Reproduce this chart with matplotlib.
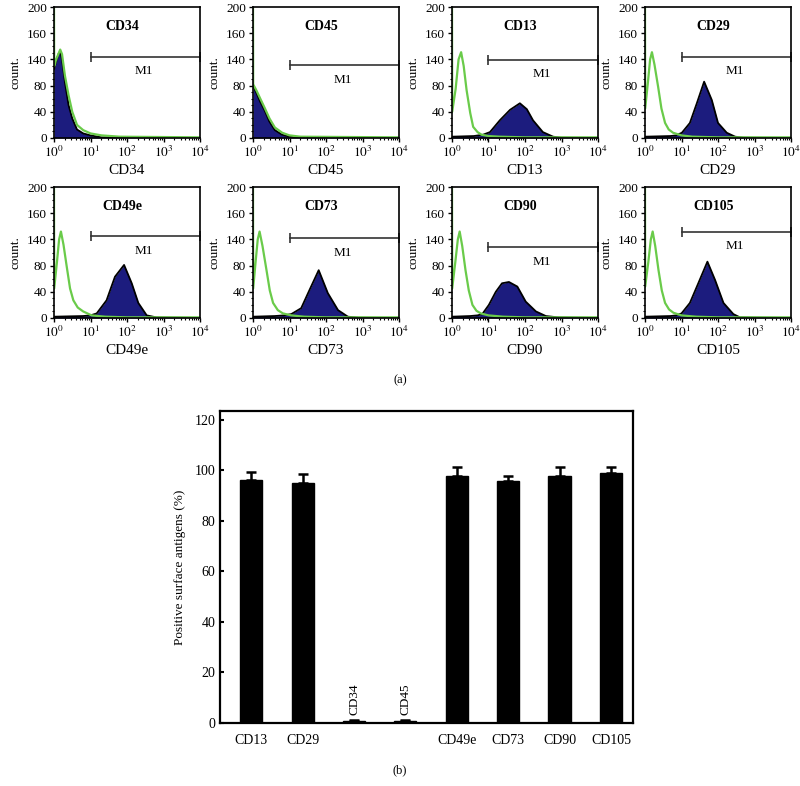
import numpy as np
import matplotlib
matplotlib.use('Agg')
import matplotlib.pyplot as plt
from matplotlib.ticker import FixedLocator

plt.rcParams['font.family'] = ['Liberation Serif', 'DejaVu Serif']
plt.rcParams['mathtext.fontset'] = 'stix'

# --- Panel (a): flow cytometry histograms (x in log10 decades, y in counts) ---
MARKERS = ['CD34', 'CD45', 'CD13', 'CD29', 'CD49e', 'CD73', 'CD90', 'CD105']
M1_Y = [124, 111, 119, 124, 125, 122, 108, 132]

GREEN_X_CD34 = [0, 0.005, 0.06, 0.17, 0.22, 0.3, 0.4, 0.5, 0.63, 0.8, 1.0, 1.3, 1.8, 4.0]
GREEN_Y_CD34 = [200, 110, 120, 135, 128, 95, 65, 40, 20, 12, 7, 4, 2, 1]
BLUE_X_CD34 = [0, 0.05, 0.12, 0.17, 0.22, 0.3, 0.4, 0.5, 0.63, 0.8, 1.0, 1.3, 4.0]
BLUE_Y_CD34 = [105, 115, 128, 132, 120, 85, 50, 30, 13, 7, 4, 1, 0]

GREEN_X_CD45 = [0, 0.005, 0.1, 0.2, 0.32, 0.45, 0.6, 0.8, 1.0, 1.3, 4.0]
GREEN_Y_CD45 = [200, 82, 72, 60, 46, 30, 16, 8, 4, 2, 1]
BLUE_X_CD45 = [0, 0.1, 0.2, 0.32, 0.45, 0.6, 0.8, 1.0, 1.3, 4.0]
BLUE_Y_CD45 = [80, 68, 55, 42, 25, 12, 5, 2, 1, 0]

GREEN_X_CD13 = [0, 0.005, 0.1, 0.18, 0.25, 0.32, 0.4, 0.5, 0.58, 0.7, 0.81, 1.0, 1.3, 2.0, 4.0]
GREEN_Y_CD13 = [200, 40, 75, 120, 131, 110, 73, 38, 17, 9, 5, 3, 2, 1, 1]
BLUE_X_CD13 = [0, 0.6, 0.85, 1.04, 1.31, 1.59, 1.86, 2.05, 2.22, 2.49, 2.77, 3.0, 4.0]
BLUE_Y_CD13 = [2, 3, 5, 9, 27, 43, 53, 44, 27, 9, 2, 0.5, 0]

GREEN_X_CD29 = [0, 0.005, 0.08, 0.14, 0.19, 0.26, 0.36, 0.45, 0.55, 0.65, 0.77, 1.0, 1.3, 2.0, 4.0]
GREEN_Y_CD29 = [200, 45, 85, 120, 131, 112, 78, 45, 23, 13, 8, 4, 2, 1, 1]
BLUE_X_CD29 = [0, 0.7, 0.85, 1.01, 1.23, 1.42, 1.62, 1.83, 2.0, 2.24, 2.47, 2.7, 4.0]
BLUE_Y_CD29 = [2, 3, 4, 8, 23, 53, 86, 58, 23, 8, 2, 0.5, 0]

GREEN_X_CD49E = [0, 0.005, 0.08, 0.14, 0.19, 0.26, 0.35, 0.44, 0.53, 0.65, 0.8, 1.03, 1.4, 2.0, 4.0]
GREEN_Y_CD49E = [200, 45, 85, 120, 132, 112, 78, 45, 27, 16, 10, 4, 2, 1, 1]
BLUE_X_CD49E = [0, 0.8, 1.0, 1.17, 1.44, 1.67, 1.92, 2.13, 2.31, 2.54, 2.8, 4.0]
BLUE_Y_CD49E = [2, 3, 4, 7, 27, 63, 81, 53, 23, 4, 1, 0]

GREEN_X_CD73 = [0, 0.005, 0.07, 0.13, 0.18, 0.26, 0.37, 0.46, 0.55, 0.68, 0.82, 1.05, 1.4, 2.0, 4.0]
GREEN_Y_CD73 = [200, 45, 85, 120, 132, 110, 73, 42, 23, 12, 7, 4, 2, 1, 1]
BLUE_X_CD73 = [0, 0.6, 0.85, 1.05, 1.32, 1.55, 1.8, 2.05, 2.33, 2.6, 2.9, 4.0]
BLUE_Y_CD73 = [2, 3, 4, 6, 15, 43, 73, 38, 12, 2, 0.5, 0]

GREEN_X_CD90 = [0, 0.005, 0.09, 0.16, 0.21, 0.28, 0.37, 0.46, 0.56, 0.67, 0.79, 1.0, 1.4, 2.0, 4.0]
GREEN_Y_CD90 = [200, 45, 85, 120, 132, 110, 73, 42, 20, 11, 7, 4, 2, 1, 1]
BLUE_X_CD90 = [0, 0.5, 0.7, 0.83, 1.01, 1.2, 1.37, 1.56, 1.79, 2.02, 2.3, 2.57, 2.9, 4.0]
BLUE_Y_CD90 = [2, 3, 4, 6, 20, 40, 53, 55, 48, 25, 10, 3, 1, 0]

GREEN_X_CD105 = [0, 0.005, 0.09, 0.16, 0.21, 0.28, 0.37, 0.46, 0.55, 0.66, 0.78, 1.0, 1.4, 2.0, 4.0]
GREEN_Y_CD105 = [200, 48, 85, 120, 132, 110, 73, 42, 23, 13, 8, 4, 2, 1, 1]
BLUE_X_CD105 = [0, 0.7, 0.85, 1.0, 1.23, 1.46, 1.71, 1.92, 2.15, 2.42, 2.6, 4.0]
BLUE_Y_CD105 = [2, 3, 4, 7, 23, 53, 86, 58, 23, 6, 1, 0]

GREEN_X = [GREEN_X_CD34, GREEN_X_CD45, GREEN_X_CD13, GREEN_X_CD29,
           GREEN_X_CD49E, GREEN_X_CD73, GREEN_X_CD90, GREEN_X_CD105]
GREEN_Y = [GREEN_Y_CD34, GREEN_Y_CD45, GREEN_Y_CD13, GREEN_Y_CD29,
           GREEN_Y_CD49E, GREEN_Y_CD73, GREEN_Y_CD90, GREEN_Y_CD105]
BLUE_X = [BLUE_X_CD34, BLUE_X_CD45, BLUE_X_CD13, BLUE_X_CD29,
          BLUE_X_CD49E, BLUE_X_CD73, BLUE_X_CD90, BLUE_X_CD105]
BLUE_Y = [BLUE_Y_CD34, BLUE_Y_CD45, BLUE_Y_CD13, BLUE_Y_CD29,
          BLUE_Y_CD49E, BLUE_Y_CD73, BLUE_Y_CD90, BLUE_Y_CD105]

HIST_YTICKS = [0, 40, 80, 120, 160, 200]
HIST_YTICKLABELS = ['0', '40', '80', '140', '160', '200']
HIST_XTICKLABELS = [r'$10^{0}$', r'$10^{1}$', r'$10^{2}$', r'$10^{3}$', r'$10^{4}$']

# --- Panel (b): percentage of positive cells ---
BAR_LABELS = ['CD13', 'CD29', 'CD34', 'CD45', 'CD49e', 'CD73', 'CD90', 'CD105']
BAR_VALUES = [96.0, 94.9, 0.8, 0.8, 97.9, 95.8, 97.9, 99.1]
BAR_ERRORS = [3.5, 3.7, 0.3, 0.3, 3.6, 2.0, 3.6, 2.4]

GREEN = '#6acb4a'
NAVY = '#1c1c7e'

fig = plt.figure(figsize=(8, 7.86), dpi=100)

W, H = 800.0, 786.0
lefts = [54, 253, 452, 645]
tops = [7, 187]
pw, ph = 146, 131

minor_x = [k + np.log10(m) for k in range(4) for m in range(2, 10)]

for i, name in enumerate(MARKERS):
    row, col = divmod(i, 4)
    ax = fig.add_axes([lefts[col] / W, 1 - (tops[row] + ph) / H, pw / W, ph / H])
    ax.fill_between(BLUE_X[i], BLUE_Y[i], 0, color=NAVY, lw=0)
    ax.plot(BLUE_X[i], BLUE_Y[i], color='black', lw=1.3)
    ax.plot(GREEN_X[i], GREEN_Y[i], color=GREEN, lw=1.6)

    # M1 marker gate
    y = M1_Y[i]
    ax.plot([1, 4], [y, y], color='#333333', lw=1.2, clip_on=False)
    ax.plot([1, 4], [y, y], ls='none', marker='|', ms=7, mew=1.2,
            color='#333333', clip_on=False)
    ax.text(2.45, y - 22, 'M1', ha='center', va='center', fontsize=9.5)
    ax.text(0.47, 0.85, name, transform=ax.transAxes, ha='center',
            va='center', fontsize=10, fontweight='bold')

    ax.set_xlim(0, 4)
    ax.set_ylim(0, 200)
    ax.set_xticks(range(5))
    ax.set_xticklabels(HIST_XTICKLABELS)
    ax.xaxis.set_minor_locator(FixedLocator(minor_x))
    ax.set_yticks(HIST_YTICKS)
    ax.set_yticklabels(HIST_YTICKLABELS)
    ax.yaxis.set_minor_locator(FixedLocator(range(0, 201, 10)))
    ax.tick_params(which='major', direction='out', length=3, width=1,
                   labelsize=9.5, pad=2)
    ax.tick_params(which='minor', direction='out', length=1.5, width=0.8)
    for s in ax.spines.values():
        s.set_linewidth(1.2)
    ax.set_xlabel(name, fontsize=11, labelpad=3)
    ax.set_ylabel('count.', fontsize=9.5, labelpad=4)

fig.text(400 / W, 1 - 380 / H, '(a)', ha='center', va='center', fontsize=9)

# --- bar chart ---
bx = fig.add_axes([220 / W, 1 - 723 / H, 413 / W, 312 / H])
xpos = np.arange(len(BAR_LABELS))
bx.bar(xpos, BAR_VALUES, width=0.43, color='black', edgecolor='black')
bx.errorbar(xpos, BAR_VALUES, yerr=[np.zeros(len(BAR_ERRORS)), BAR_ERRORS],
            fmt='none', ecolor='black', elinewidth=1.8, capsize=3.5, capthick=1.8)
bx.set_xlim(-0.61, 7.43)
bx.set_ylim(0, 123.5)
bx.set_yticks(range(0, 121, 20))
bx.set_xticks(xpos)
bx.set_xticklabels([lab if v > 10 else '' for lab, v in zip(BAR_LABELS, BAR_VALUES)])
for x, lab, v in zip(xpos, BAR_LABELS, BAR_VALUES):
    if v < 10:
        bx.text(x, v + 2.5, lab, rotation=90, ha='center', va='bottom', fontsize=9.5)
bx.tick_params(axis='y', direction='in', length=3, width=1.5, labelsize=10)
bx.tick_params(axis='x', length=0, labelsize=10, pad=8)
for s in bx.spines.values():
    s.set_linewidth(1.6)
bx.set_ylabel('Positive surface antigens (%)', fontsize=9.5, labelpad=6)

fig.text(400 / W, 1 - 770 / H, '(b)', ha='center', va='center', fontsize=9)

fig.savefig('out.png', dpi=100)
